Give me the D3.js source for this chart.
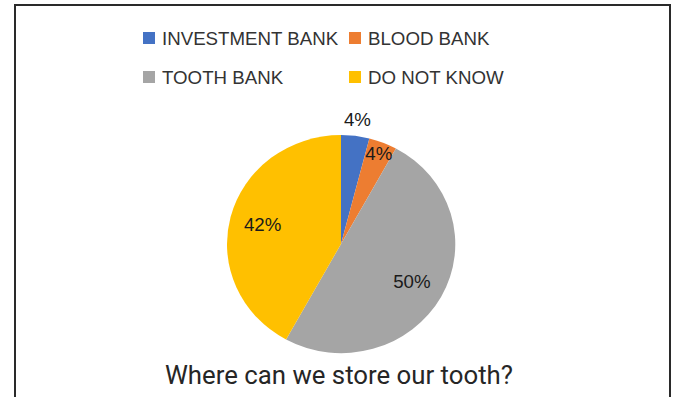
<!DOCTYPE html>
<html>
<head>
<meta charset="utf-8">
<script src="https://cdn.jsdelivr.net/npm/d3@7"></script>
<style>
  html, body { margin: 0; padding: 0; background: #fff; }
  svg { display: block; }
</style>
</head>
<body>
<svg id="chart" width="673" height="397"></svg>
<script>
// Survey answers: where can a tooth be stored?
const categories = ["INVESTMENT BANK", "BLOOD BANK", "TOOTH BANK", "DO NOT KNOW"];
const shares = [4, 4, 50, 42];
const valueLabels = ["4%", "4%", "50%", "42%"];
const chartTitle = "Where can we store our tooth?";

const colors = ["#4472C4", "#ED7D31", "#A5A5A5", "#FFC000"];

const svg = d3.select("#chart");

// Frame
svg.append("rect")
  .attr("x", 15).attr("y", 5)
  .attr("width", 655).attr("height", 430)
  .attr("fill", "#fff")
  .attr("stroke", "#2a2a2a")
  .attr("stroke-width", 2);

// Legend, two per row
const legendCols = [143, 349];
const legendRows = [32, 71];
const legend = svg.append("g");
categories.forEach((name, i) => {
  const x = legendCols[i % 2];
  const y = legendRows[Math.floor(i / 2)];
  legend.append("rect")
    .attr("x", x).attr("y", y)
    .attr("width", 12).attr("height", 12)
    .attr("fill", colors[i]);
  legend.append("text")
    .attr("x", x + 19).attr("y", y + 12.7)
    .attr("font-family", "'Liberation Sans', Arial, sans-serif")
    .attr("font-size", 18.7)
    .attr("fill", "#333")
    .text(name);
});

// Pie (slightly wider than tall)
const cx = 341, cy = 244, ry = 109, rx = 114;
const sx = rx / ry;

const pie = d3.pie().sort(null).value(d => d)
  .startAngle(0).endAngle(2 * Math.PI);
const arcs = pie(shares);
const arc = d3.arc().innerRadius(0).outerRadius(ry);

svg.append("g")
  .attr("transform", `translate(${cx},${cy}) scale(${sx},1)`)
  .selectAll("path")
  .data(arcs)
  .join("path")
  .attr("d", arc)
  .attr("fill", (d, i) => colors[i]);

// Data labels: radial distance as a fraction of the radius
const labelRadius = [1.15, 0.9, 0.71, 0.71];
svg.append("g")
  .selectAll("text")
  .data(arcs)
  .join("text")
  .attr("x", (d, i) => {
    const a = (d.startAngle + d.endAngle) / 2;
    return cx + Math.sin(a) * rx * labelRadius[i];
  })
  .attr("y", (d, i) => {
    const a = (d.startAngle + d.endAngle) / 2;
    return cy - Math.cos(a) * ry * labelRadius[i];
  })
  .attr("dy", "0.36em")
  .attr("text-anchor", "middle")
  .attr("font-family", "'Liberation Sans', Arial, sans-serif")
  .attr("font-size", 18.7)
  .attr("fill", "#1a1a1a")
  .text((d, i) => valueLabels[i]);

// Title
svg.append("text")
  .attr("x", 339).attr("y", 384)
  .attr("text-anchor", "middle")
  .attr("font-family", "Roboto, 'Noto Sans', sans-serif")
  .attr("font-size", 26)
  .attr("textLength", 348)
  .attr("lengthAdjust", "spacingAndGlyphs")
  .attr("fill", "#262626")
  .text(chartTitle);
</script>
</body>
</html>
